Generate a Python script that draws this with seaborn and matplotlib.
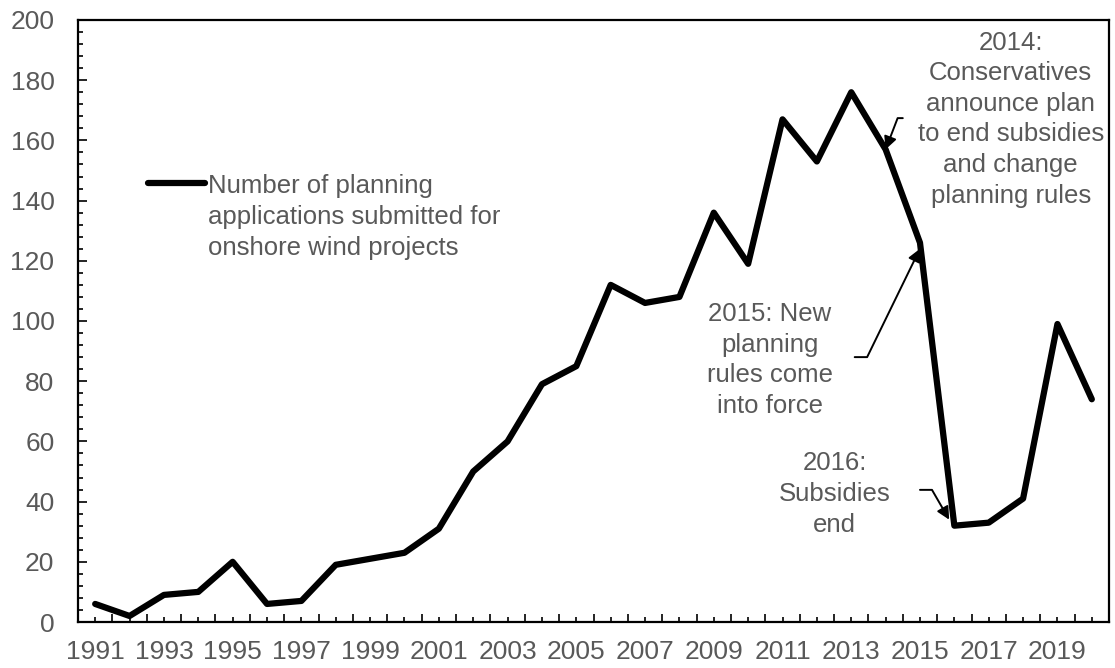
import numpy as np
import pandas as pd
import matplotlib
matplotlib.use("Agg")
import matplotlib.pyplot as plt
import seaborn as sns
from matplotlib.ticker import FixedLocator, MultipleLocator, FixedFormatter

years = list(range(1991, 2021))
applications = [6, 2, 9, 10, 20, 6, 7, 19, 21, 23, 31, 50, 60, 79, 85,
                112, 106, 108, 136, 119, 167, 153, 176, 157, 126, 32, 33, 41, 99, 74]
series_label = "Number of planning\napplications submitted for\nonshore wind projects"
tick_labels = [str(y) if (y - 1991) % 2 == 0 else "" for y in years]

ann_2014 = "2014:\nConservatives\nannounce plan\nto end subsidies\nand change\nplanning rules"
ann_2015 = "2015: New\nplanning\nrules come\ninto force"
ann_2016 = "2016:\nSubsidies\nend"

df = pd.DataFrame({"year": years, "value": applications})

sns.set_theme(style="white")
plt.rcParams['font.family'] = ['Liberation Sans', 'DejaVu Sans']
grey = "#595959"

fig = plt.figure(figsize=(11.15, 6.68), dpi=100)
ax = fig.add_axes([78/1115, 1 - 622/668, (1109-78)/1115, (622-20)/668])

sns.lineplot(data=df, x="year", y="value", color="black", linewidth=4.5,
             label=series_label, ax=ax)

ax.set_xlim(1990.5, 2020.5)
ax.set_ylim(0, 200)
ax.set_xlabel("")
ax.set_ylabel("")

ax.xaxis.set_major_locator(FixedLocator(years))
ax.xaxis.set_major_formatter(FixedFormatter(tick_labels))
ax.xaxis.set_minor_locator(FixedLocator([y + 0.5 for y in years[:-1]]))
ax.yaxis.set_major_locator(MultipleLocator(20))
ax.yaxis.set_minor_locator(MultipleLocator(4))

ax.tick_params(axis="x", which="major", direction="in", length=3.5, width=1.2,
               color="black", labelsize=19, labelcolor=grey, pad=13, bottom=True)
ax.tick_params(axis="x", which="minor", direction="in", length=6, width=1.2,
               color="black", bottom=True)
ax.tick_params(axis="y", which="major", direction="in", length=6.5, width=1.2,
               color="black", labelsize=19, labelcolor=grey, pad=17, left=True)
ax.tick_params(axis="y", which="minor", direction="in", length=3.5, width=1.2,
               color="black", left=True)

for s in ax.spines.values():
    s.set_visible(True)
    s.set_color("black")
    s.set_linewidth(1.6)

leg = ax.legend(loc="upper left", bbox_to_anchor=(0.068, 0.744), frameon=False,
                fontsize=18.5, handlelength=2.2, handletextpad=0.12,
                borderpad=0, borderaxespad=0, labelcolor=grey)
for t in leg.get_texts():
    t.set_linespacing(1.37)
try:
    for col in leg._legend_handle_box.get_children():
        for row in col.get_children():
            row.align = "top"
except Exception:
    pass

arrow_kw = dict(arrowstyle="-|>", color="black", lw=1.4, mutation_scale=19,
                shrinkA=0, shrinkB=0)

ax.text(2017.64, 196.5, ann_2014, ha="center", va="top", fontsize=18.5,
        color=grey, linespacing=1.35)
ax.annotate("", xy=(2014.0, 157), xytext=(2014.5, 167.4), textcoords="data",
            arrowprops=dict(connectionstyle="angle,angleA=0,angleB=69,rad=0", **arrow_kw))

ax.text(2010.63, 106.3, ann_2015, ha="center", va="top", fontsize=18.5,
        color=grey, linespacing=1.35)
ax.annotate("", xy=(2015.0, 124), xytext=(2013.1, 88), textcoords="data",
            arrowprops=dict(connectionstyle="angle,angleA=0,angleB=64,rad=0", **arrow_kw))

ax.text(2012.52, 56.7, ann_2016, ha="center", va="top", fontsize=18.5,
        color=grey, linespacing=1.35)
ax.annotate("", xy=(2015.85, 34), xytext=(2015.0, 43.9), textcoords="data",
            arrowprops=dict(connectionstyle="angle,angleA=0,angleB=-60,rad=0", **arrow_kw))

fig.savefig("out.png", dpi=100)
